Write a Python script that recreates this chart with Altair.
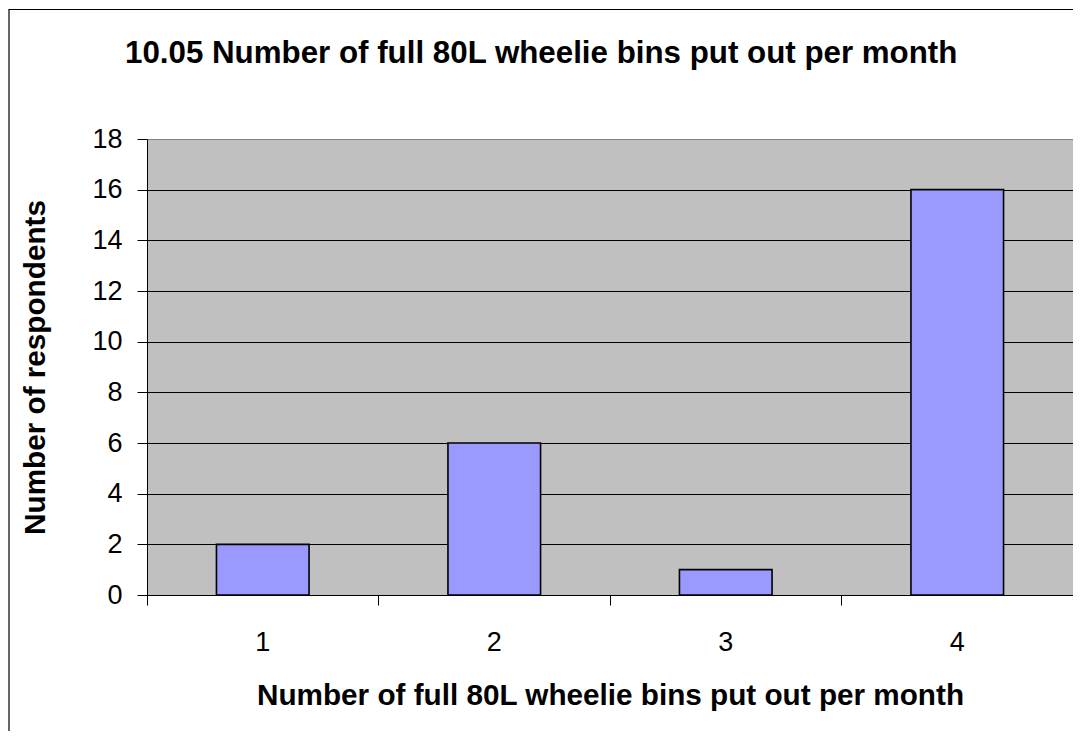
import altair as alt
import pandas as pd

categories = ["1", "2", "3", "4"]
respondents = [2, 6, 1, 16]
y_ticks = [0, 2, 4, 6, 8, 10, 12, 14, 16, 18]

title_text = "10.05 Number of full 80L wheelie bins put out per month"
x_title = "Number of full 80L wheelie bins put out per month"
y_title = "Number of respondents"

df = pd.DataFrame({"cat": categories, "n": respondents})
FONT = "Liberation Sans"

bars = alt.Chart(df).mark_bar(
    fill="#9999FF", stroke="#000000", strokeWidth=1.6,
    width=alt.RelativeBandSize(0.4)
).encode(
    x=alt.X("cat:N", sort=categories, title=x_title,
            scale=alt.Scale(paddingInner=0, paddingOuter=0),
            axis=alt.Axis(labelAngle=0, bandPosition=1, tickExtra=True,
                          domainColor="#000000", tickColor="#000000",
                          tickSize=10, labelPadding=24, titlePadding=26,
                          labelFontSize=27, titleFontSize=29.7,
                          labelFont=FONT, titleFont=FONT,
                          labelColor="#000000", titleColor="#000000",
                          titleFontWeight="bold", grid=False)),
    y=alt.Y("n:Q", title=y_title,
            scale=alt.Scale(domain=[0, 18], nice=False),
            axis=alt.Axis(values=y_ticks, domainColor="#000000",
                          tickColor="#000000", tickSize=10, labelPadding=15,
                          labelFontSize=27, titleFontSize=29.7,
                          labelFont=FONT, titleFont=FONT,
                          labelColor="#000000", titleColor="#000000",
                          titleFontWeight="bold", titlePadding=41,
                          grid=True,
                          gridColor={"condition": {"test": "datum.value == 18", "value": "#808080"},
                                     "value": "#000000"},
                          gridWidth=1, gridOpacity=1)),
)

frame = alt.Chart(alt.Data(values=[{}])).mark_rect(
    fill="transparent", stroke="#000000", strokeWidth=1.2, clip=False
).encode(
    x=alt.value(-138), x2=alt.value(1300),
    y=alt.value(-129.5), y2=alt.value(900),
)

chart = alt.layer(bars, frame).properties(
    width=926, height=456,
    padding={"left": 139, "top": 131, "right": 0, "bottom": 136},
    autosize=alt.AutoSizeParams(type="none"),
    background="#FFFFFF",
    title=alt.TitleParams(title_text, font=FONT, fontSize=31.3, fontWeight="bold",
                          color="#000000", anchor="start", frame="group",
                          baseline="alphabetic", dx=-22, dy=85, offset=0),
).configure_view(
    fill="#C0C0C0", stroke="#808080", strokeWidth=1
)

chart.save("out.html", embed_options={"renderer": "svg", "actions": False})
